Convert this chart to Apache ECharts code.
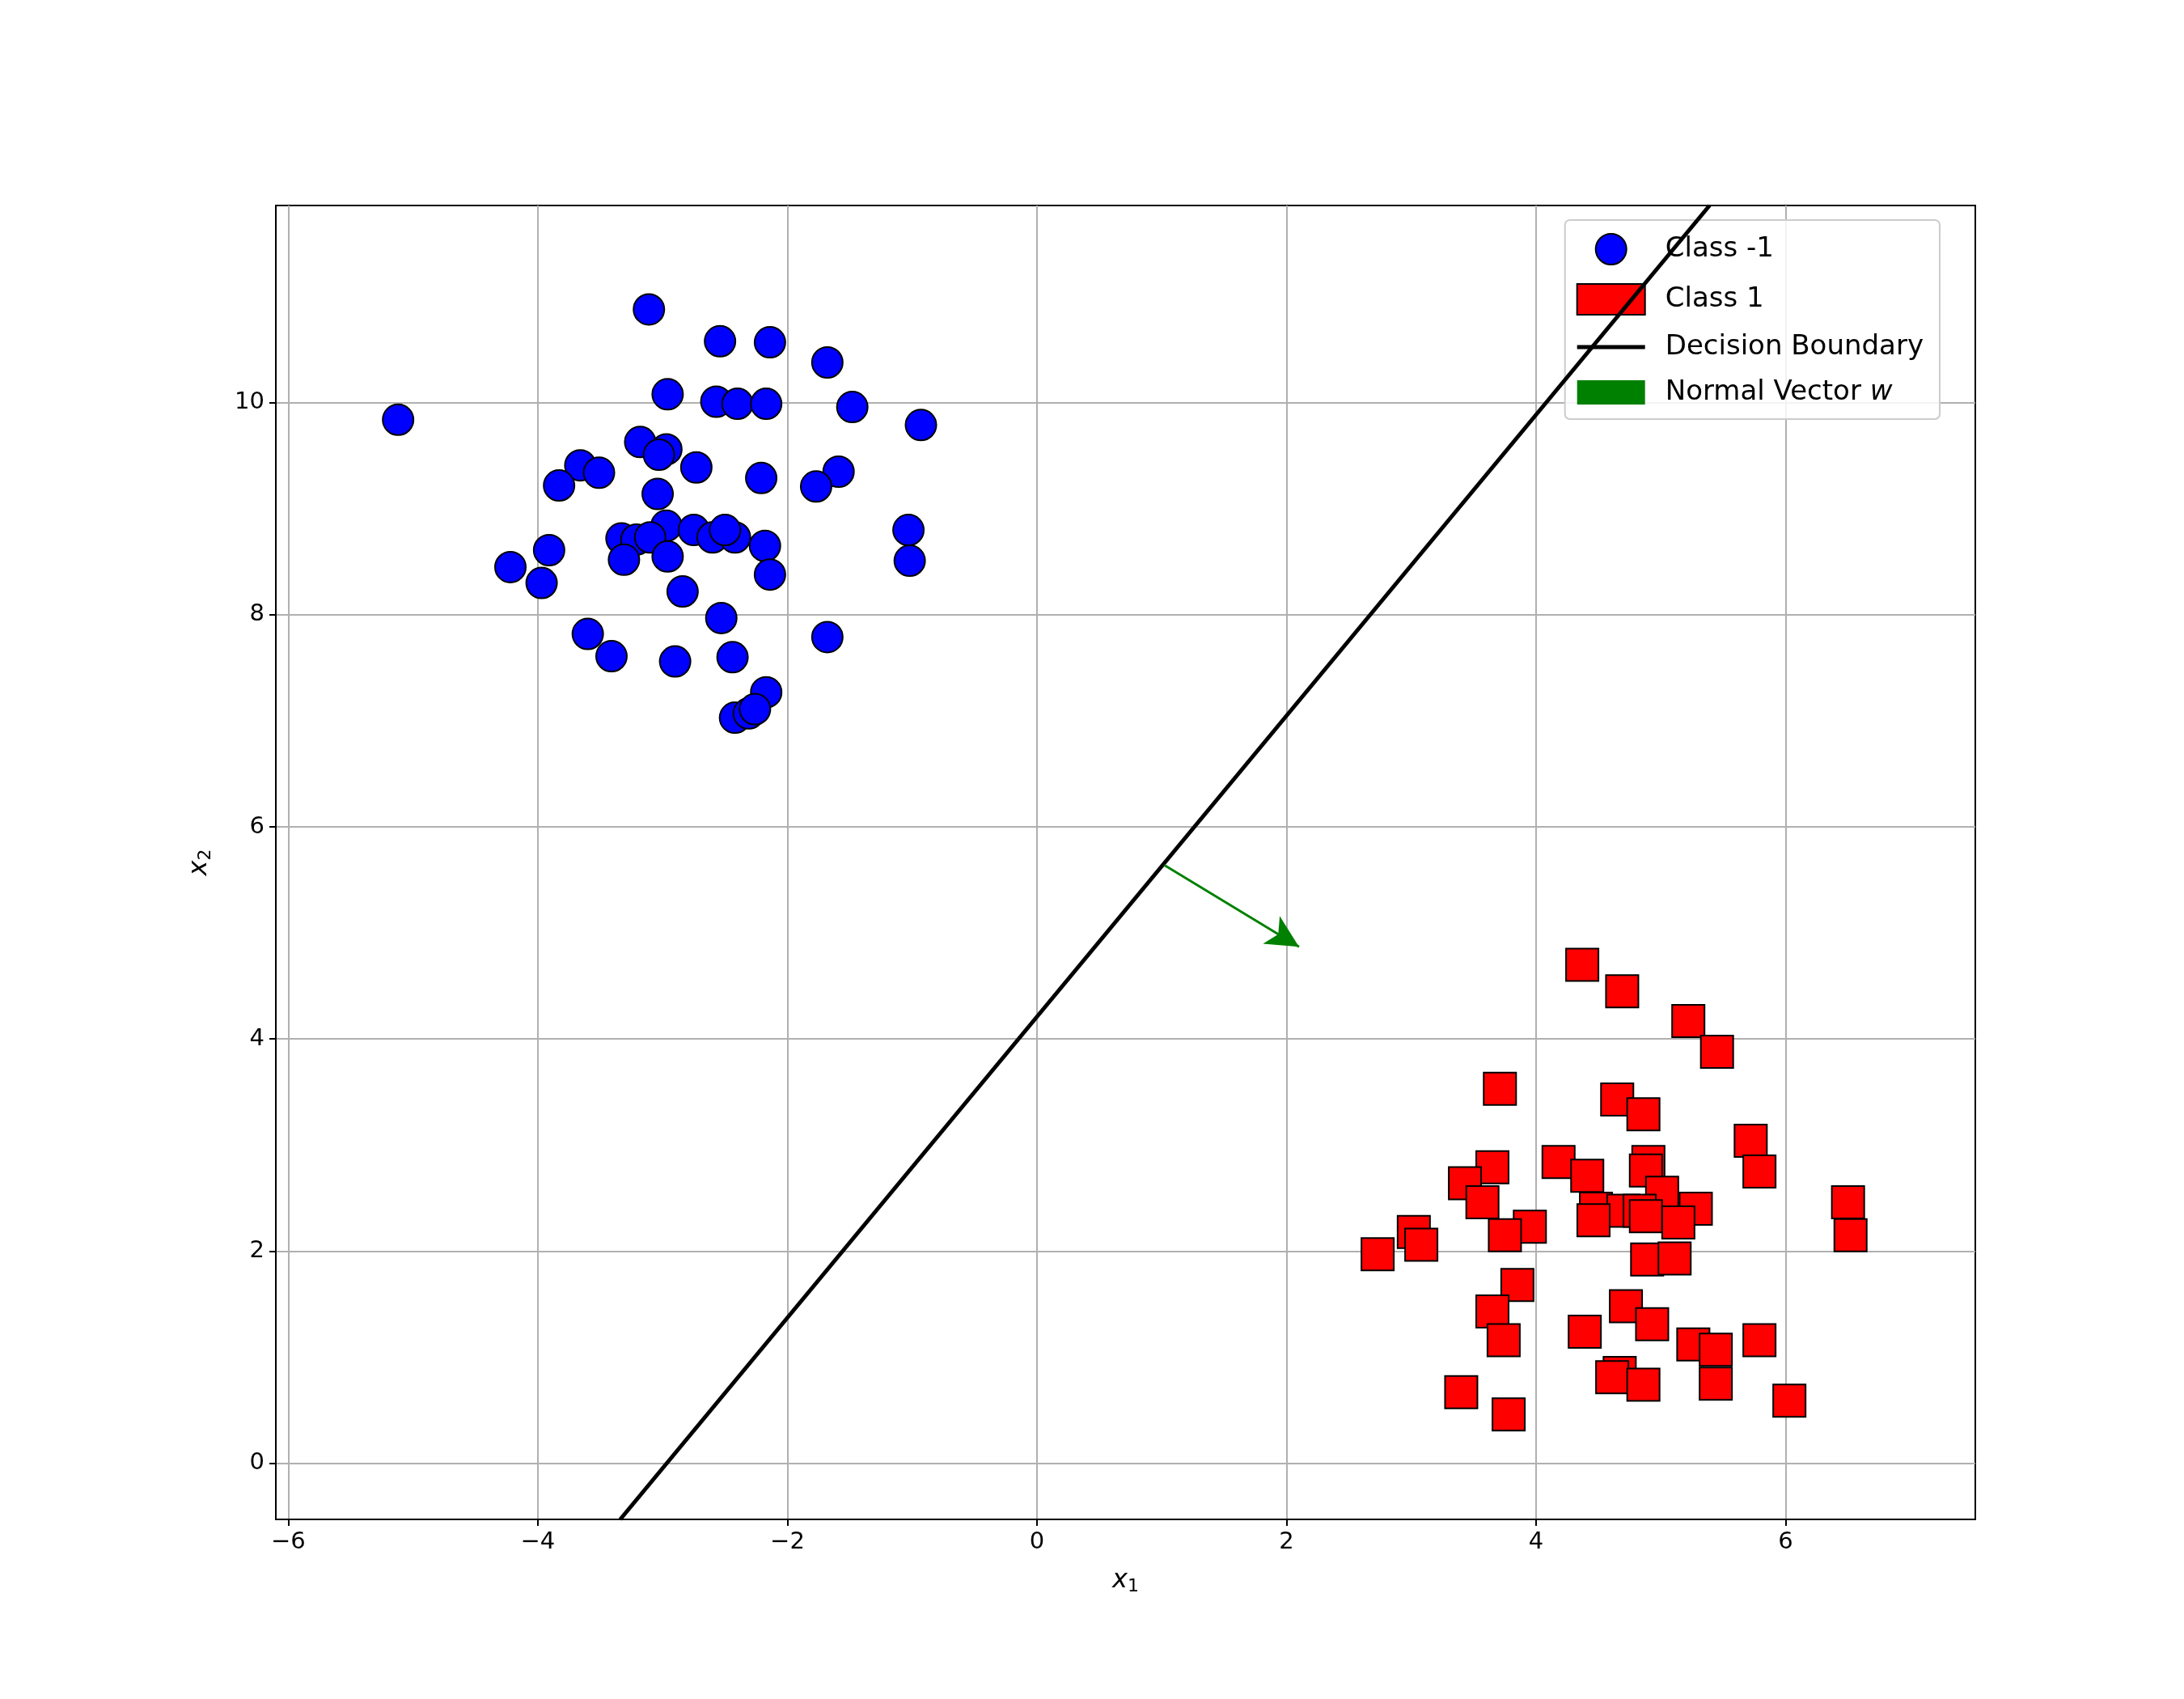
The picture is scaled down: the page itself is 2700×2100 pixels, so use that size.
<!DOCTYPE html>
<html>
<head>
<meta charset="utf-8">
<script src="https://cdn.jsdelivr.net/npm/echarts@6/dist/echarts.min.js"></script>
<style>
  html, body { margin: 0; background: #fff; }
  #chart { width: 2700px; height: 2100px; }
</style>
</head>
<body>
<div id="chart"></div>
<script>
// Class -1 (blue circles)
var negX = [-5.12,-3.11,-2.54,-2.14,-1.68,-2.96,-2.57,-2.40,-2.17,-1.48,-0.93,-3.18,-2.97,-3.03,-3.66,-3.51,-2.73,-1.59,-2.21,-3.83,-1.77,-3.04,-1.03,-3.33,-2.97,-2.75,-2.60,-2.42,-2.50,-3.21,-3.10,-2.18,-3.91,-3.31,-2.96,-1.02,-4.22,-2.14,-3.97,-2.84,-2.53,-3.60,-1.68,-3.41,-2.44,-2.90,-2.17,-2.42,-2.31,-2.26];
var negY = [9.84,10.88,10.58,10.57,10.38,10.08,10.01,9.99,9.99,9.96,9.79,9.63,9.56,9.51,9.41,9.34,9.39,9.35,9.29,9.22,9.21,9.14,8.80,8.72,8.84,8.80,8.73,8.73,8.80,8.71,8.73,8.65,8.61,8.52,8.55,8.51,8.45,8.38,8.30,8.22,7.97,7.82,7.79,7.61,7.60,7.56,7.27,7.03,7.07,7.11];
// Class 1 (red squares)
var posX = [4.37,4.69,5.22,5.45,3.71,4.65,4.86,5.72,5.79,3.65,4.18,4.90,4.41,4.88,3.43,5.01,3.57,6.50,5.28,4.48,4.70,4.83,4.46,4.88,3.95,5.14,3.02,3.75,6.52,3.08,2.73,4.89,5.11,3.85,4.72,3.65,4.93,4.39,3.74,5.26,5.79,5.44,4.67,4.61,4.86,5.44,3.40,6.03,3.78];
var posY = [4.70,4.45,4.17,3.88,3.53,3.43,3.29,3.04,2.75,2.79,2.84,2.84,2.71,2.76,2.64,2.55,2.46,2.46,2.40,2.40,2.38,2.38,2.29,2.33,2.23,2.27,2.18,2.15,2.15,2.06,1.97,1.92,1.93,1.68,1.48,1.43,1.31,1.24,1.16,1.12,1.16,1.07,0.85,0.81,0.74,0.75,0.67,0.59,0.46];
// decision boundary ends and normal vector w
var boundaryX = [-3.34, 5.39];
var boundaryY = [-0.53, 11.86];
var arrowStart = [1.02, 5.64];
var arrowEnd = [2.10, 4.87];
var xTicks = [-6, -4, -2, 0, 2, 4, 6];
var yTicks = [0, 2, 4, 6, 8, 10];

function zip(a, b) {
    return a.map(function (v, i) { return [v, b[i]]; });
}

var myChart = echarts.init(document.getElementById('chart'));
var font = 'DejaVu Sans';
var option = {
    animation: false,
    backgroundColor: '#fff',
    textStyle: { fontFamily: font },
    grid: {
        left: 341, right: 258, top: 254, bottom: 222,
        show: true, borderColor: '#000', borderWidth: 2
    },
    legend: {
        right: 302, top: 272,
        orient: 'vertical',
        itemGap: 22,
        itemWidth: 84,
        itemHeight: 38,
        padding: [16, 20, 16, 14],
        borderColor: '#ccc', borderWidth: 2, borderRadius: 6,
        backgroundColor: 'rgba(255,255,255,0.85)',
        textStyle: {
            fontSize: 34, color: '#000', padding: [0, 0, 0, 20],
            rich: { i: { fontSize: 34, fontStyle: 'italic' } }
        },
        formatter: function (name) {
            return name === 'Normal Vector w' ? 'Normal Vector {i|w}' : name;
        },
        data: [
            { name: 'Class -1', icon: 'circle' },
            { name: 'Class 1', icon: 'rect' },
            { name: 'Decision Boundary', icon: 'path://M0,0 L84,0 L84,5 L0,5 Z' },
            { name: 'Normal Vector w', icon: 'path://M0,0 L84,0 L84,30 L0,30 Z' }
        ]
    },
    xAxis: {
        type: 'value', min: -6.1, max: 7.52,
        name: '{a|x}{s|1}', nameLocation: 'middle', nameGap: 58,
        nameTextStyle: { rich: { a: { fontSize: 32, fontStyle: 'italic' }, s: { fontSize: 22, verticalAlign: 'bottom', padding: [14, 0, 0, 0] } } },
        axisLine: { show: true, onZero: false, lineStyle: { color: '#000', width: 2 } },
        axisTick: { show: true, inside: false, length: 8, customValues: xTicks, lineStyle: { color: '#000', width: 2 } },
        axisLabel: { fontSize: 29, color: '#000', margin: 14, customValues: xTicks,
            formatter: function (v) { return String(v).replace('-', '\u2212'); } },
        splitLine: { show: true, lineStyle: { color: '#b0b0b0', width: 2 } }
    },
    yAxis: {
        type: 'value', min: -0.53, max: 11.86,
        name: '{a|x}{s|2}', nameLocation: 'middle', nameGap: 76, nameRotate: 90,
        nameTextStyle: { rich: { a: { fontSize: 32, fontStyle: 'italic' }, s: { fontSize: 22, padding: [14, 0, 0, 0] } } },
        axisLine: { show: true, onZero: false, lineStyle: { color: '#000', width: 2 } },
        axisTick: { show: true, inside: false, length: 8, customValues: yTicks, lineStyle: { color: '#000', width: 2 } },
        axisLabel: { fontSize: 29, color: '#000', margin: 14, customValues: yTicks },
        splitLine: { show: true, lineStyle: { color: '#b0b0b0', width: 2 } }
    },
    series: [
        {
            name: 'Class -1', type: 'scatter', symbol: 'circle', symbolSize: 38,
            itemStyle: { color: '#0000ff', borderColor: '#000', borderWidth: 2, opacity: 1 },
            data: zip(negX, negY), z: 3
        },
        {
            name: 'Class 1', type: 'scatter', symbol: 'rect', symbolSize: 40,
            itemStyle: { color: '#ff0000', borderColor: '#000', borderWidth: 2, opacity: 1 },
            data: zip(posX, posY), z: 3
        },
        {
            name: 'Decision Boundary', type: 'line', showSymbol: false, symbol: 'none',
            lineStyle: { color: '#000', width: 5 }, itemStyle: { color: '#000' },
            data: zip(boundaryX, boundaryY), z: 4
        },
        {
            name: 'Normal Vector w', type: 'line', data: [],
            itemStyle: { color: '#008000' }, lineStyle: { color: '#008000' },
            markLine: {
                silent: true, symbol: ['none', 'arrow'], symbolSize: [30, 40],
                label: { show: false },
                lineStyle: { color: '#008000', width: 3, type: 'solid' },
                data: [[{ coord: arrowStart }, { coord: arrowEnd }]]
            },
            z: 5
        }
    ]
};
myChart.setOption(option);
</script>
</body>
</html>
